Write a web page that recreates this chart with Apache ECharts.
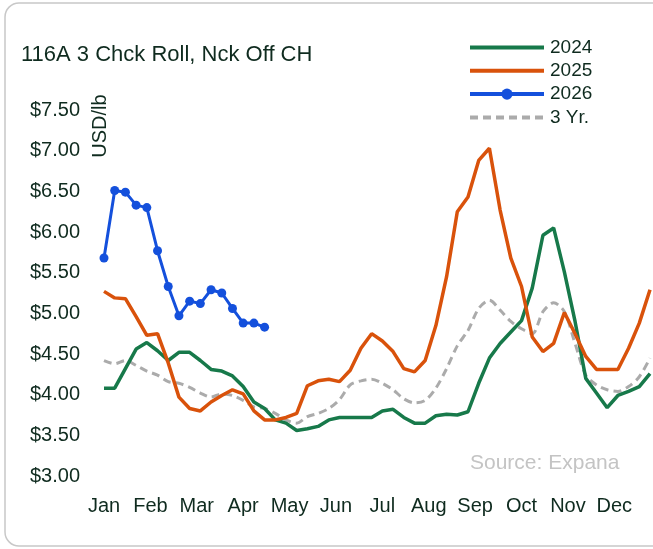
<!DOCTYPE html>
<html>
<head>
<meta charset="utf-8">
<script src="https://cdn.jsdelivr.net/npm/echarts@6/dist/echarts.min.js"></script>
<style>
  html, body { margin: 0; padding: 0; background: #fff; }
  #chart { width: 653px; height: 549px; }
</style>
</head>
<body>
<div id="chart"></div>
<script>
// weekly prices, USD/lb (week 0 = first week of Jan)
var months = ['Jan', 'Feb', 'Mar', 'Apr', 'May', 'Jun', 'Jul', 'Aug', 'Sep', 'Oct', 'Nov', 'Dec'];
var yTicks = [3.0, 3.5, 4.0, 4.5, 5.0, 5.5, 6.0, 6.5, 7.0, 7.5];

var y2024 = [4.08, 4.08, 4.32, 4.56, 4.64, 4.54, 4.42, 4.52, 4.52, 4.42, 4.31, 4.29, 4.23,
  4.10, 3.91, 3.83, 3.69, 3.65, 3.56, 3.58, 3.61, 3.69, 3.72, 3.72, 3.72, 3.72,
  3.80, 3.82, 3.72, 3.65, 3.65, 3.74, 3.76, 3.75, 3.79, 4.14, 4.45, 4.63, 4.77,
  4.91, 5.31, 5.96, 6.05, 5.51, 4.90, 4.20, 4.02, 3.84, 3.99, 4.04, 4.10, 4.26];

var y2025 = [5.27, 5.19, 5.18, 4.96, 4.73, 4.75, 4.39, 3.97, 3.83, 3.80, 3.91, 3.99, 4.06,
  4.01, 3.80, 3.69, 3.69, 3.72, 3.77, 4.11, 4.17, 4.19, 4.16, 4.30, 4.57, 4.75,
  4.66, 4.53, 4.32, 4.28, 4.42, 4.85, 5.45, 6.25, 6.43, 6.88, 7.03, 6.27, 5.68,
  5.33, 4.71, 4.53, 4.63, 5.01, 4.75, 4.47, 4.31, 4.31, 4.31, 4.57, 4.88, 5.29];

var y2026 = [5.68, 6.51, 6.49, 6.33, 6.30, 5.77, 5.33, 4.97, 5.15, 5.12, 5.29, 5.25, 5.06,
  4.88, 4.88, 4.83];

var y3yr = [4.42, 4.38, 4.42, 4.36, 4.29, 4.24, 4.16, 4.14, 4.09, 4.02, 3.97, 4.01, 3.99,
  3.93, 3.85, 3.83, 3.77, 3.69, 3.65, 3.73, 3.77, 3.83, 3.94, 4.12, 4.17, 4.19,
  4.14, 4.06, 3.95, 3.90, 3.93, 4.08, 4.32, 4.60, 4.79, 5.06, 5.16, 5.04, 4.90,
  4.81, 4.75, 5.02, 5.13, 5.02, 4.63, 4.24, 4.12, 4.06, 4.04, 4.10, 4.22, 4.45];

var weeksPerMonth = 52 / 12;
var textColor = '#0f2b1f';
var font = 'Liberation Sans';

function pairs(arr) {
  return arr.map(function (v, i) { return [i, v]; });
}

var noSymbol = { opacity: 0 };

var chart = echarts.init(document.getElementById('chart'));
chart.setOption({
  animation: false,
  title: {
    text: '116A 3 Chck Roll, Nck Off CH',
    left: 21,
    top: 44,
    padding: 0,
    textStyle: { fontFamily: font, fontSize: 22, fontWeight: 'normal', color: textColor }
  },
  legend: {
    orient: 'vertical',
    left: 468,
    top: 38,
    padding: 0,
    itemWidth: 74,
    itemHeight: 14,
    itemGap: 4.3,
    lineStyle: { width: 4 },
    textStyle: { fontFamily: font, fontSize: 19, color: textColor, padding: [0, 0, 0, 1] },
    data: [
      { name: '2024', itemStyle: noSymbol },
      { name: '2025', itemStyle: noSymbol },
      { name: '2026', itemStyle: { borderWidth: 0 } },
      { name: '3 Yr.', itemStyle: noSymbol }
    ]
  },
  grid: { left: 104, right: 3, top: 110, bottom: 73, outerBoundsMode: 'none' },
  xAxis: {
    type: 'value',
    min: 0,
    max: 51,
    interval: weeksPerMonth,
    axisLine: { show: false },
    axisTick: { show: false },
    splitLine: { show: false },
    axisLabel: {
      margin: 20,
      fontFamily: font,
      fontSize: 20,
      color: textColor,
      formatter: function (v) {
        var i = Math.round(v / weeksPerMonth);
        return (i < 12 && Math.abs(v - i * weeksPerMonth) < 0.05) ? months[i] : '';
      }
    }
  },
  yAxis: {
    type: 'value',
    min: yTicks[0],
    max: yTicks[yTicks.length - 1],
    interval: 0.5,
    axisLine: { show: false },
    axisTick: { show: false },
    splitLine: { show: false },
    axisLabel: {
      margin: 24,
      fontFamily: font,
      fontSize: 20,
      color: textColor,
      formatter: function (v) { return '$' + v.toFixed(2); }
    }
  },
  graphic: [
    {
      type: 'rect',
      shape: { x: 5, y: 3, width: 720, height: 543, r: 14 },
      style: { fill: 'none', stroke: '#c8c8c8', lineWidth: 1.5 },
      silent: true
    },
    {
      type: 'text',
      x: 100,
      y: 126,
      rotation: Math.PI / 2,
      style: { text: 'USD/lb', fontFamily: font, fontSize: 20, fill: textColor, align: 'center', verticalAlign: 'middle' }
    },
    {
      type: 'text',
      x: 470,
      y: 463,
      style: { text: 'Source: Expana', fontFamily: font, fontSize: 21, fill: '#c4c4c4', verticalAlign: 'middle' }
    }
  ],
  series: [
    {
      name: '2024', type: 'line', data: pairs(y2024), symbol: 'none',
      lineStyle: { color: '#17794a', width: 3.5 }, itemStyle: { color: '#17794a' }
    },
    {
      name: '2025', type: 'line', data: pairs(y2025), symbol: 'none',
      lineStyle: { color: '#d9520b', width: 3.5 }, itemStyle: { color: '#d9520b' }
    },
    {
      name: '2026', type: 'line', data: pairs(y2026), symbol: 'circle', symbolSize: 9,
      lineStyle: { color: '#1450dc', width: 3 }, itemStyle: { color: '#1450dc' }
    },
    {
      name: '3 Yr.', type: 'line', data: pairs(y3yr), symbol: 'none', smooth: 0.3, z: 1,
      lineStyle: { color: '#ababab', width: 3, type: [8, 5] }, itemStyle: { color: '#ababab' }
    }
  ]
});
</script>
</body>
</html>
